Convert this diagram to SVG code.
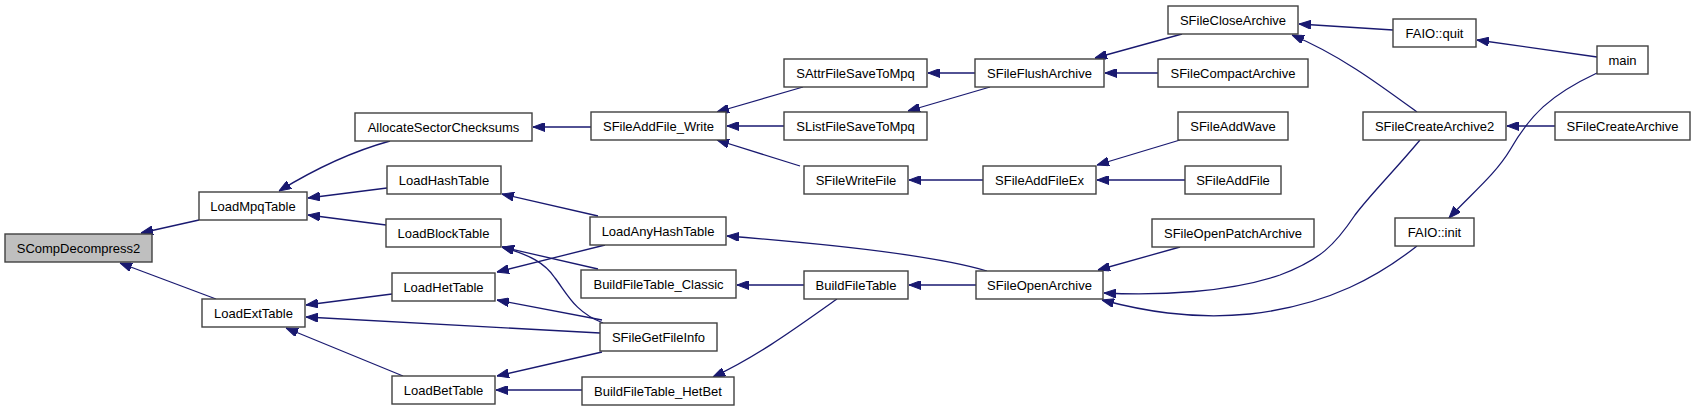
<svg xmlns="http://www.w3.org/2000/svg" width="1696" height="411" viewBox="0 0 1696 411">
<style>
.n rect{fill:#fff;stroke:#404040;stroke-width:1.4}
.n.root rect{fill:#bfbfbf}
.n text{font-family:"Liberation Sans",Arial,sans-serif;font-size:13px;fill:#000;text-anchor:middle}
.e path{fill:none;stroke:#191970;stroke-width:1.3;marker-end:url(#ah)}
</style>
<defs>
<marker id="ah" markerUnits="userSpaceOnUse" viewBox="0 0 12 9" refX="12" refY="4.5" markerWidth="12" markerHeight="9" orient="auto">
<path d="M0,0 L12,4.5 L0,9 z" fill="#191970" stroke="#191970" stroke-width="1"/>
</marker>
</defs>
<rect width="1696" height="411" fill="#fff"/>
<g class="e" id="edges">
<path d="M199,220 L141,233"/>
<path d="M216,299 L120,263"/>
<path d="M390,141 C350,152 310,172 279,191"/>
<path d="M387,188 L308,198"/>
<path d="M386,225 L308,215"/>
<path d="M591,127 L533,127"/>
<path d="M803,87 L717,112"/>
<path d="M784,126 L727,126"/>
<path d="M800,166 L717,140"/>
<path d="M975,73 L928,73"/>
<path d="M990,87 L908,111"/>
<path d="M1182,34 L1095,58"/>
<path d="M1158,73 L1105,73"/>
<path d="M1393,30 L1299,24"/>
<path d="M1417,112 C1380,85 1340,55 1292,35"/>
<path d="M1597,57 L1477,40"/>
<path d="M1555,126 L1507,126"/>
<path d="M1597,73 C1550,95 1530,115 1510,150 C1495,175 1470,195 1449,218"/>
<path d="M983,180 L909,180"/>
<path d="M1180,140 L1097,165"/>
<path d="M1185,180 L1097,180"/>
<path d="M987,271 C950,260 880,248 727,236"/>
<path d="M1180,247 L1098,270"/>
<path d="M1420,140 C1395,170 1370,195 1355,215 C1335,245 1320,260 1280,275 C1230,292 1160,296 1104,293"/>
<path d="M1417,246 C1380,275 1330,305 1250,314 C1190,320 1140,310 1102,300"/>
<path d="M804,285 L737,285"/>
<path d="M837,299 C800,325 760,355 713,377"/>
<path d="M976,285 L909,285"/>
<path d="M598,216 L502,194"/>
<path d="M605,245 L497,272"/>
<path d="M598,269 L502,247"/>
<path d="M603,323 C575,312 568,295 555,278 C545,263 530,255 502,247"/>
<path d="M602,320 L497,300"/>
<path d="M600,333 L306,317"/>
<path d="M602,352 L497,376"/>
<path d="M582,390 L496,390"/>
<path d="M392,294 L306,305"/>
<path d="M403,376 L286,328"/>
</g>
<g class="n root" id="SCompDecompress2"><rect x="5" y="234" width="147" height="28"/><text x="78.5" y="252.5">SCompDecompress2</text></g>
<g class="n" id="LoadMpqTable"><rect x="199" y="192" width="108" height="28"/><text x="253" y="210.5">LoadMpqTable</text></g>
<g class="n" id="LoadExtTable"><rect x="202" y="299" width="103" height="28"/><text x="253.5" y="317.5">LoadExtTable</text></g>
<g class="n" id="AllocateSectorChecksums"><rect x="355" y="113" width="177" height="28"/><text x="443.5" y="131.5">AllocateSectorChecksums</text></g>
<g class="n" id="LoadHashTable"><rect x="387" y="166" width="114" height="28"/><text x="444" y="184.5">LoadHashTable</text></g>
<g class="n" id="LoadBlockTable"><rect x="386" y="219" width="115" height="28"/><text x="443.5" y="237.5">LoadBlockTable</text></g>
<g class="n" id="LoadHetTable"><rect x="392" y="273" width="103" height="28"/><text x="443.5" y="291.5">LoadHetTable</text></g>
<g class="n" id="LoadBetTable"><rect x="392" y="376" width="103" height="28"/><text x="443.5" y="394.5">LoadBetTable</text></g>
<g class="n" id="SFileAddFile_Write"><rect x="591" y="112" width="135" height="28"/><text x="658.5" y="130.5">SFileAddFile_Write</text></g>
<g class="n" id="LoadAnyHashTable"><rect x="590" y="217" width="136" height="28"/><text x="658" y="235.5">LoadAnyHashTable</text></g>
<g class="n" id="BuildFileTable_Classic"><rect x="581" y="270" width="155" height="28"/><text x="658.5" y="288.5">BuildFileTable_Classic</text></g>
<g class="n" id="SFileGetFileInfo"><rect x="600" y="323" width="117" height="28"/><text x="658.5" y="341.5">SFileGetFileInfo</text></g>
<g class="n" id="BuildFileTable_HetBet"><rect x="582" y="377" width="152" height="28"/><text x="658" y="395.5">BuildFileTable_HetBet</text></g>
<g class="n" id="SAttrFileSaveToMpq"><rect x="784" y="59" width="143" height="28"/><text x="855.5" y="77.5">SAttrFileSaveToMpq</text></g>
<g class="n" id="SListFileSaveToMpq"><rect x="784" y="112" width="143" height="28"/><text x="855.5" y="130.5">SListFileSaveToMpq</text></g>
<g class="n" id="SFileWriteFile"><rect x="804" y="166" width="104" height="28"/><text x="856" y="184.5">SFileWriteFile</text></g>
<g class="n" id="BuildFileTable"><rect x="804" y="271" width="104" height="28"/><text x="856" y="289.5">BuildFileTable</text></g>
<g class="n" id="SFileFlushArchive"><rect x="975" y="59" width="129" height="28"/><text x="1039.5" y="77.5">SFileFlushArchive</text></g>
<g class="n" id="SFileAddFileEx"><rect x="983" y="166" width="113" height="28"/><text x="1039.5" y="184.5">SFileAddFileEx</text></g>
<g class="n" id="SFileOpenArchive"><rect x="976" y="271" width="127" height="28"/><text x="1039.5" y="289.5">SFileOpenArchive</text></g>
<g class="n" id="SFileCloseArchive"><rect x="1168" y="6" width="130" height="28"/><text x="1233" y="24.5">SFileCloseArchive</text></g>
<g class="n" id="SFileCompactArchive"><rect x="1158" y="59" width="150" height="28"/><text x="1233" y="77.5">SFileCompactArchive</text></g>
<g class="n" id="SFileAddWave"><rect x="1178" y="112" width="110" height="28"/><text x="1233" y="130.5">SFileAddWave</text></g>
<g class="n" id="SFileAddFile"><rect x="1185" y="166" width="96" height="28"/><text x="1233" y="184.5">SFileAddFile</text></g>
<g class="n" id="SFileOpenPatchArchive"><rect x="1152" y="219" width="162" height="28"/><text x="1233" y="237.5">SFileOpenPatchArchive</text></g>
<g class="n" id="SFileCreateArchive2"><rect x="1363" y="112" width="143" height="28"/><text x="1434.5" y="130.5">SFileCreateArchive2</text></g>
<g class="n" id="FAIO_quit"><rect x="1393" y="19" width="83" height="28"/><text x="1434.5" y="37.5">FAIO::quit</text></g>
<g class="n" id="FAIO_init"><rect x="1395" y="218" width="79" height="28"/><text x="1434.5" y="236.5">FAIO::init</text></g>
<g class="n" id="main"><rect x="1597" y="46" width="51" height="28"/><text x="1622.5" y="64.5">main</text></g>
<g class="n" id="SFileCreateArchive"><rect x="1555" y="112" width="135" height="28"/><text x="1622.5" y="130.5">SFileCreateArchive</text></g>
</svg>
